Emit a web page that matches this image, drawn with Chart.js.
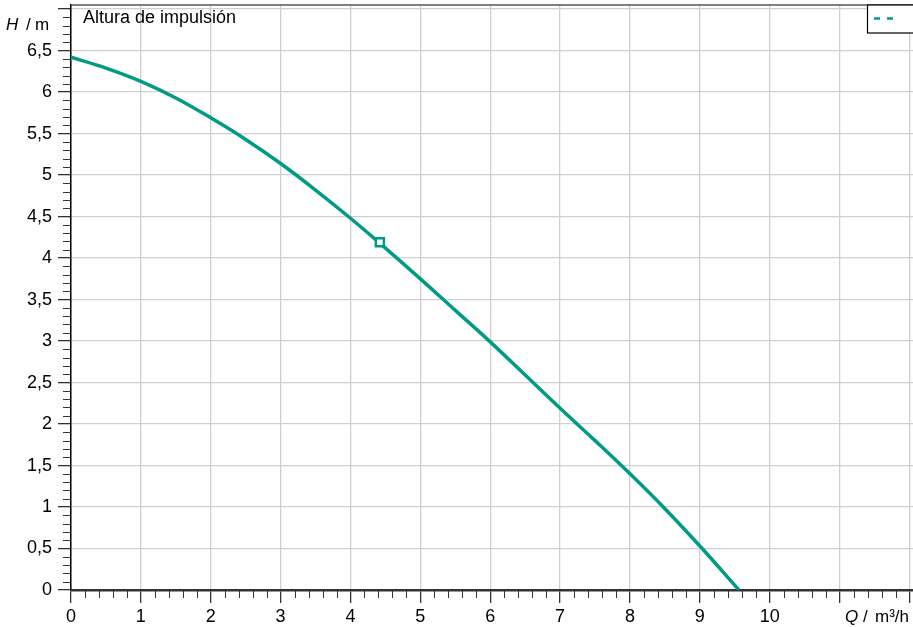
<!DOCTYPE html>
<html>
<head>
<meta charset="utf-8">
<script src="https://cdn.jsdelivr.net/npm/chart.js@4"></script>
<style>
    html, body { margin: 0; padding: 0; background: #fff; }
    #wrap { width: 913px; height: 627px; position: relative; }
</style>
</head>
<body>
<div id="wrap"><canvas id="pumpChart"></canvas></div>
<script>
// --- Chart data ---
const flowQ = [0, 0.5, 1, 1.5, 2, 2.5, 3, 3.5, 4, 4.5, 5, 5.5, 6, 6.5, 7, 7.5, 8, 8.5, 9, 9.56];
const headH = [6.42, 6.29, 6.13, 5.93, 5.69, 5.43, 5.14, 4.82, 4.48, 4.12, 3.75, 3.37, 2.99, 2.59, 2.19, 1.8, 1.4, 0.98, 0.53, 0];
const dutyQ = [4.42];
const dutyH = [4.19];
const xTickLabels = ['0', '1', '2', '3', '4', '5', '6', '7', '8', '9', '10'];
const yTickLabels = ['0', '0,5', '1', '1,5', '2', '2,5', '3', '3,5', '4', '4,5', '5', '5,5', '6', '6,5'];

const GREEN = '#009b84';
const FONT = 'Arial, "Liberation Sans", sans-serif';

// minor ticks, frame, axis titles and the small legend box
const decorPlugin = {
    id: 'decor',
    afterDraw(chart) {
        const ctx = chart.ctx;
        const xs = chart.scales.x;
        const ys = chart.scales.y;
        const area = chart.chartArea;
        ctx.save();

        // minor ticks
        ctx.strokeStyle = '#333';
        ctx.lineWidth = 1;
        ctx.beginPath();
        for (let i = 1; i <= 60; i++) {
            if (i % 5 === 0) continue;
            const px = Math.round(xs.getPixelForValue(i * 0.2)) + 0.5;
            if (px > area.right) break;
            ctx.moveTo(px, area.bottom);
            ctx.lineTo(px, area.bottom + 8);
        }
        for (let i = 1; i <= 70; i++) {
            if (i % 5 === 0) continue;
            const py = Math.round(ys.getPixelForValue(i * 0.1)) + 0.5;
            ctx.moveTo(area.left - 8, py);
            ctx.lineTo(area.left, py);
        }
        ctx.stroke();

        // top frame
        ctx.strokeStyle = '#555';
        ctx.lineWidth = 1.5;
        ctx.beginPath();
        ctx.moveTo(area.left, area.top);
        ctx.lineTo(area.right, area.top);
        ctx.stroke();

        // legend box (top right)
        ctx.fillStyle = '#fff';
        ctx.fillRect(867, area.top, 50, 28);
        ctx.strokeStyle = '#000';
        ctx.lineWidth = 1.2;
        ctx.strokeRect(867.5, area.top, 50, 28);
        ctx.strokeStyle = GREEN;
        ctx.lineWidth = 2.5;
        ctx.setLineDash([6, 7]);
        ctx.beginPath();
        ctx.moveTo(874, 18.5);
        ctx.lineTo(895, 18.5);
        ctx.stroke();
        ctx.setLineDash([]);

        // texts
        ctx.fillStyle = '#000';
        ctx.textBaseline = 'alphabetic';
        ctx.textAlign = 'left';
        ctx.font = '18px ' + FONT;
        ctx.fillText('Altura de impulsión', 83, 23);

        ctx.font = 'italic 17px ' + FONT;
        ctx.fillText('H', 6, 30);
        ctx.font = '17px ' + FONT;
        ctx.fillText('/', 26, 30);
        ctx.fillText('m', 35, 30);

        ctx.font = 'italic 17px ' + FONT;
        ctx.fillText('Q', 845, 622);
        ctx.font = '17px ' + FONT;
        ctx.fillText('/', 863, 622);
        ctx.fillText('m³/h', 875, 622);

        ctx.restore();
    }
};

document.addEventListener('DOMContentLoaded', () => {
    const ctx = document.getElementById('pumpChart').getContext('2d');

    new Chart(ctx, {
        type: 'line',
        data: {
            datasets: [
                {
                    data: flowQ.map((q, i) => ({ x: q, y: headH[i] })),
                    borderColor: GREEN,
                    borderWidth: 3.5,
                    pointRadius: 0,
                    tension: 0.4,
                    fill: false,
                    order: 2
                },
                {
                    data: dutyQ.map((q, i) => ({ x: q, y: dutyH[i] })),
                    showLine: false,
                    pointStyle: 'rect',
                    pointRadius: 5.7,
                    pointBorderWidth: 2.5,
                    pointBorderColor: GREEN,
                    pointBackgroundColor: '#fff',
                    order: 1
                }
            ]
        },
        options: {
            responsive: true,
            maintainAspectRatio: false,
            animation: false,
            layout: { autoPadding: false, padding: { top: 5, right: 0, left: 0, bottom: 0 } },
            plugins: {
                legend: { display: false },
                tooltip: { enabled: false }
            },
            scales: {
                x: {
                    type: 'linear',
                    min: 0,
                    max: 12.05,
                    afterFit: (scale) => {
                        scale.height = 37;
                        scale.paddingLeft = 0;
                        scale.paddingRight = 0;
                    },
                    ticks: {
                        stepSize: 1,
                        includeBounds: false,
                        autoSkip: false,
                        maxRotation: 0,
                        padding: 3,
                        color: '#000',
                        font: { family: FONT, size: 18 },
                        callback: (v) => xTickLabels[v] !== undefined ? xTickLabels[v] : ''
                    },
                    grid: {
                        color: '#cfcfcf',
                        tickColor: '#333',
                        tickLength: 13,
                        lineWidth: 1.3
                    },
                    border: { color: '#333', width: 2.5 }
                },
                y: {
                    type: 'linear',
                    min: 0,
                    max: 7.05,
                    afterFit: (scale) => {
                        scale.width = 71;
                        scale.paddingTop = 0;
                        scale.paddingBottom = 0;
                    },
                    ticks: {
                        stepSize: 0.5,
                        includeBounds: false,
                        autoSkip: false,
                        padding: 6,
                        color: '#000',
                        font: { family: FONT, size: 18 },
                        callback: (v) => {
                            const label = yTickLabels[Math.round(v * 2)];
                            return label !== undefined ? label : '';
                        }
                    },
                    grid: {
                        color: '#cfcfcf',
                        tickColor: '#333',
                        tickLength: 13,
                        lineWidth: 1.3
                    },
                    border: { color: '#000', width: 1.5 }
                }
            }
        },
        plugins: [decorPlugin]
    });
});
</script>
</body>
</html>
